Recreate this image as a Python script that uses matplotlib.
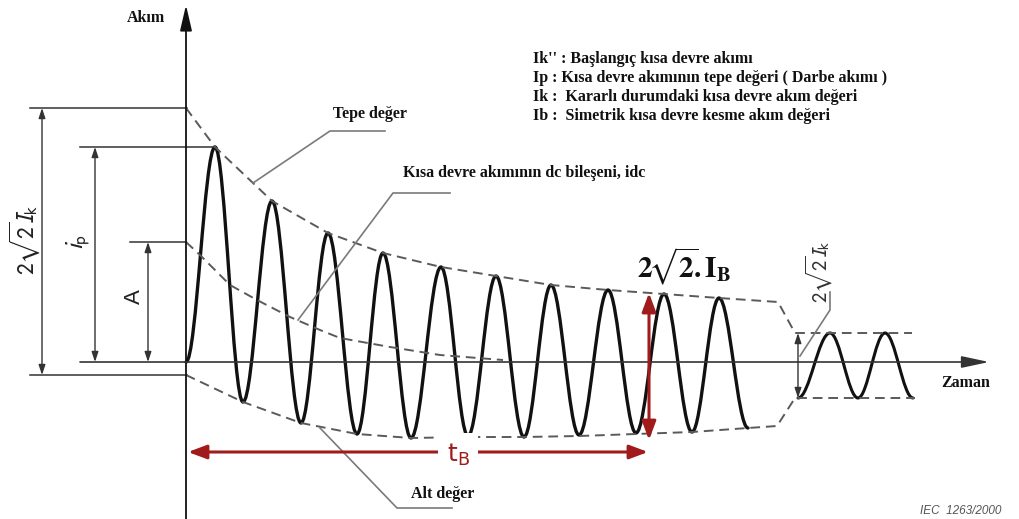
import matplotlib
matplotlib.use("Agg")
import matplotlib.pyplot as plt
from matplotlib.path import Path
from matplotlib.patches import PathPatch

# ---------------- data (time units, current units; origin at axis crossing) ----------
wave_t = [0, 29, 57, 86, 115, 142, 171, 197, 225, 255, 282, 310, 338, 365, 393, 422, 450, 478, 506, 533, 562]
wave_i = [0, 215, -40, 161, -61, 129, -72, 109, -76, 95, -74, 86, -75, 77, -73, 72, -71, 68, -70, 64, -66]

steady_t = [612, 644, 672, 699, 727]
steady_i = [-36, 29, -36, 29, -36]

upper_t = [0, 29, 67, 86, 142, 197, 255, 310, 365, 422, 478, 533, 592, 609, 726]
upper_i = [254, 215, 179, 161, 129, 109, 95, 86, 77, 72, 68, 64, 60, 29, 29]

lower_t = [0, 57, 115, 171, 225, 282, 338, 393, 450, 506, 562, 591, 609, 729]
lower_i = [-13, -40, -61, -72, -76, -75, -75, -74, -72, -70, -66, -64, -36, -36]

dc_t = [0, 14, 44, 71, 104, 134, 154, 204, 254, 317]
dc_i = [120, 107, 77, 62, 45, 32, 24, 15, 7, 2]

peak_first = 215      # i_p
dc_start = 120        # A
env_start = 254       # top of 2*sqrt(2)*Ik'' span
env_bottom = -13
tB_end = 463
IB_top, IB_bottom = 69, -78
steady_top, steady_bottom = 29, -36

legend_lines = [
    "Ik'' : Başlangıç kısa devre akımı",
    "Ip : Kısa devre akımının tepe değeri ( Darbe akımı )",
    "Ik :  Kararlı durumdaki kısa devre akım değeri",
    "Ib :  Simetrik kısa devre kesme akım değeri",
]

# ---------------- styles ----------------
BLACK = "#111111"
LINE = "#333333"
DASH = "#5a5a5a"
LEAD = "#7a7a7a"
RED = "#a01c1c"
SERIF = "Liberation Serif"
SANS = "Liberation Sans"

fig = plt.figure(figsize=(10.2, 5.19), dpi=100)
ax = fig.add_axes([0, 0, 1, 1])
ax.set_xlim(-186, 834)
ax.set_ylim(-157, 362)
ax.axis("off")


def cos_path(ts, ys):
    a = 0.363
    verts = [(ts[0], ys[0])]
    codes = [Path.MOVETO]
    for k in range(len(ts) - 1):
        t0, y0, t1, y1 = ts[k], ys[k], ts[k + 1], ys[k + 1]
        d = t1 - t0
        verts += [(t0 + a * d, y0), (t1 - a * d, y1), (t1, y1)]
        codes += [Path.CURVE4] * 3
    return Path(verts, codes)


# axes
ax.annotate("", xy=(0, 357), xytext=(0, -157),
            arrowprops=dict(arrowstyle="-|>,head_length=1.3,head_width=0.3", color=BLACK,
                            lw=1.3, shrinkA=0, shrinkB=0, mutation_scale=12))
ax.annotate("", xy=(803, 0), xytext=(-106, 0),
            arrowprops=dict(arrowstyle="-|>,head_length=1.4,head_width=0.3", color=LINE,
                            lw=1.2, shrinkA=0, shrinkB=0, mutation_scale=12))

# left reference lines
ax.plot([-156, 1], [env_start, env_start], color=LINE, lw=1.1)
ax.plot([-156, 1], [env_bottom, env_bottom], color=LINE, lw=1.1)
ax.plot([-106, wave_t[1]], [peak_first, peak_first], color=LINE, lw=1.1)
ax.plot([-56, 0], [dc_start, dc_start], color=LINE, lw=1.1)

dim = dict(arrowstyle="<|-|>,head_length=0.6,head_width=0.2", color=LINE, lw=1.0,
           shrinkA=0, shrinkB=0, mutation_scale=10)
ax.annotate("", xy=(-144, env_start), xytext=(-144, env_bottom), arrowprops=dim)
ax.annotate("", xy=(-91, peak_first), xytext=(-91, 0), arrowprops=dim)
ax.annotate("", xy=(-38, dc_start), xytext=(-38, 0), arrowprops=dim)
ax.annotate("", xy=(612, steady_top), xytext=(612, steady_bottom), arrowprops=dim)

ax.text(-161, 122, r"$2\sqrt{2}I_{\mathrm{k}}$", rotation=90, ha="center", va="center",
        fontsize=17, color="#222222", math_fontfamily="stixsans")
ax.text(-108, 120, r"$i_{\mathrm{p}}$", rotation=90, ha="center", va="center",
        fontsize=18, color="#222222", math_fontfamily="stixsans")
ax.text(-52, 65, "A", rotation=90, ha="center", va="center",
        fontsize=16, color="#222222", family=SANS)

# envelopes
dash = dict(color=DASH, lw=1.4, ls=(0, (5, 3)))
ax.plot(upper_t, upper_i, **dash)
ax.plot(lower_t, lower_i, **dash)
ax.plot(dc_t, dc_i, **dash)

# waveform
ax.add_patch(PathPatch(cos_path(wave_t, wave_i), fill=False, lw=2.4, edgecolor=BLACK,
                       capstyle="round", joinstyle="round"))
ax.add_patch(PathPatch(cos_path(steady_t, steady_i), fill=False, lw=2.2, edgecolor=BLACK,
                       capstyle="round", joinstyle="round"))

# leaders
lead = dict(color=LEAD, lw=1.2)
ax.plot([67, 144, 199], [179, 231, 231], **lead)
ax.plot([112, 207, 264], [42, 169, 169], **lead)
ax.plot([134, 211, 266], [-66, -146, -146], **lead)
ax.plot([614, 644, 644], [6, 52, 70], **lead)

# bold serif labels
lab = dict(family=SERIF, fontweight="bold", fontsize=11.5, color=BLACK)
ax.text(-40, 344, "Akım", ha="center", va="center", **lab)
ax.text(184, 248, "Tepe değer", ha="center", va="center", **lab)
ax.text(338, 189, "Kısa devre akımının dc bileşeni, idc", ha="center", va="center", **lab)
ax.text(257, -132, "Alt değer", ha="center", va="center", **lab)
ax.text(780, -21, "Zaman", ha="center", va="center", **lab)
for k, s in enumerate(legend_lines):
    ax.text(347, 299 - 19 * k, s, ha="left", va="baseline", **lab)

ax.text(633, 90, r"$2\sqrt{2}I_{\mathrm{k}}$", rotation=90, ha="center", va="center",
        fontsize=15, color="#333333", math_fontfamily="stixsans")

# red markers
red = dict(arrowstyle="<|-|>,head_length=0.8,head_width=0.3", color=RED, lw=2.2,
           shrinkA=0, shrinkB=0, mutation_scale=14)
ax.annotate("", xy=(tB_end, IB_top), xytext=(tB_end, IB_bottom), arrowprops=red)
ax.annotate("", xy=(2, -90), xytext=(tB_end - 1, -90), arrowprops=red)
ax.text(272, -93, r"$\mathrm{t_B}$", ha="center", va="center", fontsize=18, color=RED,
        math_fontfamily="dejavusans",
        bbox=dict(boxstyle="square,pad=0.35", fc="white", ec="none"))
ax.text(451, 96, r"$\mathbf{2\!\sqrt{2}\!.I_B}$", ha="left", va="center", fontsize=21,
        color=BLACK, math_fontfamily="stix")

ax.text(775, -149, "IEC  1263/2000", ha="center", va="center", fontsize=8.5,
        style="italic", color="#555555", family=SANS)

fig.savefig("out.png", dpi=100, facecolor="white")
